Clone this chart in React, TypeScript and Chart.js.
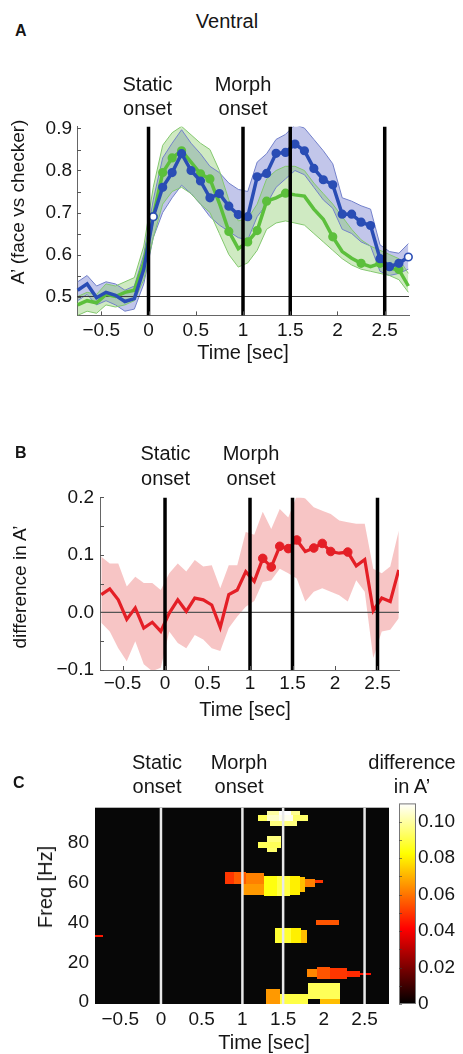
import React, { useEffect, useRef } from "react";
import { Chart, registerables } from "chart.js";

Chart.register(...registerables);

const FONT = "'Liberation Sans', Arial, Helvetica, sans-serif";
const INK = "#151515";

// ---------- shared time axis ----------
const timeSec = [-0.75, -0.65, -0.55, -0.45, -0.35, -0.25, -0.15, -0.05, 0.05, 0.15, 0.25, 0.35, 0.45, 0.55, 0.65, 0.75, 0.85, 0.95, 1.05, 1.15, 1.25, 1.35, 1.45, 1.55, 1.65, 1.75, 1.85, 1.95, 2.05, 2.15, 2.25, 2.35, 2.45, 2.55, 2.65, 2.75];
const eventTimes = [0, 1, 1.5, 2.5];
const timeTickValues = [-0.5, 0, 0.5, 1, 1.5, 2, 2.5];
const timeTickLabels = ["−0.5", "0", "0.5", "1", "1.5", "2", "2.5"];

// ---------- panel A ----------
const blueMean = [0.515, 0.53, 0.497, 0.51, 0.503, 0.488, 0.495, 0.565, 0.69, 0.76, 0.795, 0.84, 0.8, 0.775, 0.735, 0.745, 0.715, 0.695, 0.69, 0.785, 0.793, 0.841, 0.843, 0.863, 0.847, 0.805, 0.778, 0.766, 0.696, 0.696, 0.677, 0.669, 0.59, 0.571, 0.579, 0.594];
const blueUpper = [0.535, 0.55, 0.525, 0.535, 0.53, 0.515, 0.525, 0.6, 0.73, 0.83, 0.865, 0.897, 0.865, 0.84, 0.81, 0.795, 0.77, 0.755, 0.75, 0.82, 0.84, 0.874, 0.886, 0.909, 0.901, 0.874, 0.847, 0.816, 0.735, 0.727, 0.716, 0.708, 0.623, 0.607, 0.603, 0.626];
const blueLower = [0.49, 0.505, 0.48, 0.49, 0.48, 0.465, 0.47, 0.53, 0.64, 0.7, 0.735, 0.765, 0.745, 0.72, 0.69, 0.67, 0.655, 0.64, 0.635, 0.69, 0.72, 0.76, 0.78, 0.8, 0.79, 0.76, 0.73, 0.71, 0.66, 0.65, 0.63, 0.62, 0.56, 0.55, 0.555, 0.565];
const greenMean = [0.48, 0.49, 0.485, 0.505, 0.5, 0.51, 0.515, 0.58, 0.69, 0.795, 0.83, 0.847, 0.82, 0.792, 0.78, 0.722, 0.655, 0.614, 0.63, 0.657, 0.727, 0.735, 0.746, 0.742, 0.739, 0.708, 0.684, 0.642, 0.607, 0.591, 0.579, 0.571, 0.579, 0.567, 0.564, 0.525];
const greenUpper = [0.5, 0.51, 0.505, 0.53, 0.525, 0.535, 0.545, 0.62, 0.76, 0.86, 0.89, 0.905, 0.885, 0.865, 0.85, 0.8, 0.73, 0.68, 0.685, 0.72, 0.78, 0.8, 0.81, 0.81, 0.8, 0.77, 0.745, 0.72, 0.69, 0.66, 0.635, 0.62, 0.61, 0.6, 0.59, 0.555];
const greenLower = [0.455, 0.465, 0.46, 0.48, 0.475, 0.48, 0.49, 0.54, 0.64, 0.72, 0.75, 0.76, 0.745, 0.72, 0.7, 0.65, 0.6, 0.57, 0.58, 0.61, 0.66, 0.675, 0.68, 0.675, 0.67, 0.65, 0.63, 0.61, 0.59, 0.575, 0.565, 0.56, 0.555, 0.55, 0.54, 0.51];
const blueMarked = [8, 9, 10, 11, 12, 13, 14, 15, 16, 17, 18, 19, 20, 21, 22, 23, 24, 25, 26, 27, 28, 29, 30, 31, 32, 33, 34, 35];
const blueOpen = [8, 35];
const greenMarked = [8, 9, 10, 11, 13, 14, 16, 18, 19, 20, 22, 27, 30, 32, 34];
const greenOpen = [8];
const aYTicks = [0.5, 0.6, 0.7, 0.8, 0.9];
const aYLabels = ["0.5", "0.6", "0.7", "0.8", "0.9"];
const aYMinor = [0.55, 0.65, 0.75, 0.85];
const aRefLevel = 0.5;

// ---------- panel B ----------
const redMean = [0.031, 0.041, 0.022, -0.012, 0.008, -0.027, -0.017, -0.033, -0.001, 0.022, 0.002, 0.025, 0.022, 0.013, -0.026, 0.031, 0.039, 0.071, 0.054, 0.094, 0.079, 0.115, 0.111, 0.126, 0.106, 0.112, 0.12, 0.106, 0.103, 0.105, 0.081, 0.092, 0.003, 0.025, 0.019, 0.074];
const redUpper = [0.097, 0.085, 0.085, 0.045, 0.062, 0.051, 0.051, 0.039, 0.068, 0.085, 0.071, 0.091, 0.08, 0.082, 0.042, 0.082, 0.082, 0.14, 0.135, 0.175, 0.145, 0.18, 0.165, 0.203, 0.198, 0.183, 0.177, 0.171, 0.16, 0.157, 0.154, 0.154, 0.076, 0.068, 0.08, 0.142];
const redLower = [-0.018, -0.033, -0.062, -0.085, -0.05, -0.09, -0.102, -0.096, -0.033, -0.053, -0.062, -0.039, -0.047, -0.062, -0.067, -0.027, -0.007, 0.01, 0.02, 0.053, 0.056, 0.076, 0.068, 0.059, 0.019, 0.036, 0.042, 0.036, 0.03, 0.019, 0.056, 0.036, -0.079, -0.033, -0.03, -0.01];
const redMarked = [19, 20, 21, 22, 23, 25, 26, 27, 29];
const bYTicks = [-0.1, 0, 0.1, 0.2];
const bYLabels = ["−0.1", "0.0", "0.1", "0.2"];
const bYMinor = [-0.05, 0.05, 0.15];

// ---------- panel C (time-frequency map) ----------
// [t start, t end, freq low, freq high, difference in A']
const heatCells = [
  [1.3, 1.45, 94.1, 96.2, 0.1], [1.45, 1.6, 94.1, 96.2, 0.11], [1.6, 1.71, 94.1, 96.2, 0.098],
  [1.19, 1.3, 90.9, 94.1, 0.092], [1.3, 1.45, 90.9, 94.1, 0.104], [1.45, 1.62, 90.9, 94.1, 0.108], [1.62, 1.8, 90.9, 94.1, 0.094],
  [1.34, 1.67, 88.5, 90.9, 0.096],
  [1.3, 1.48, 80.5, 83.7, 0.096], [1.19, 1.48, 77.6, 80.5, 0.092], [1.3, 1.42, 75.7, 77.6, 0.094],
  [0.785, 0.9, 59.6, 65.5, 0.05], [0.9, 1.05, 59.6, 65.5, 0.056], [1.0, 1.26, 54.0, 59.6, 0.066], [1.05, 1.26, 59.6, 65.2, 0.062],
  [1.26, 1.42, 53.2, 63.6, 0.084], [1.42, 1.58, 53.2, 63.6, 0.09], [1.58, 1.71, 54.0, 63.6, 0.08], [1.71, 1.77, 55.6, 62.8, 0.072],
  [1.77, 1.89, 57.7, 62.0, 0.062], [1.89, 1.99, 59.9, 61.2, 0.05],
  [1.9, 2.19, 39.0, 41.1, 0.055],
  [1.4, 1.6, 29.9, 37.1, 0.088], [1.6, 1.72, 29.9, 37.1, 0.08], [1.72, 1.795, 29.9, 36.5, 0.072],
  [1.795, 1.91, 12.5, 16.5, 0.063], [1.91, 2.07, 11.5, 17.5, 0.055], [2.07, 2.28, 11.5, 17.0, 0.05], [2.28, 2.44, 12.5, 15.5, 0.048], [2.44, 2.585, 13.5, 14.8, 0.044],
  [1.29, 1.46, -1, 6.5, 0.066], [1.46, 1.8, -1, 4.0, 0.09], [1.8, 2.2, 1.5, 9.8, 0.092], [1.95, 2.2, -1, 1.5, 0.072],
  [-0.81, -0.71, 32.8, 33.8, 0.045],
];
const cYTicks = [0, 20, 40, 60, 80];
const cYLabels = ["0", "20", "40", "60", "80"];
const cbTicks = [0, 0.02, 0.04, 0.06, 0.08, 0.1];
const cbLabels = ["0", "0.02", "0.04", "0.06", "0.08", "0.10"];
const cbMinor = [0.01, 0.03, 0.05, 0.07, 0.09];
const cbMax = 0.11;

// ---------- helpers ----------
const clamp = (v: number) => Math.max(0, Math.min(1, v));
function hot(u: number) {
  const c = clamp(u);
  const r = clamp(c / 0.375), g = clamp((c - 0.375) / 0.375), b = clamp((c - 0.75) / 0.25);
  return `rgb(${Math.round(r * 255)},${Math.round(g * 255)},${Math.round(b * 255)})`;
}
const pts = (ys: number[]) => timeSec.map((t, i) => ({ x: t, y: ys[i] }));
const labelFor = (v: number, vals: number[], labels: string[]) => {
  const i = vals.findIndex((x) => Math.abs(x - v) < 1e-9);
  return i >= 0 ? labels[i] : "";
};
const setTicks = (vals: number[]) => (s: any) => { s.ticks = vals.map((v) => ({ value: v })); };
const tickFont = { family: FONT, size: 19 };

const eventSets = (yMin: number, yMax: number, color: string, width: number) =>
  eventTimes.map((t) => ({
    data: [{ x: t, y: yMin }, { x: t, y: yMax }],
    borderColor: color, borderWidth: width, pointRadius: 0, fill: false, order: 0,
  }));

const innerTicks = (len: number) => ({
  id: "innerTicks",
  afterDatasetsDraw(chart: any) {
    const { ctx, chartArea: a, scales } = chart;
    ctx.save();
    ctx.strokeStyle = "#555"; ctx.lineWidth = 1;
    for (const t of scales.x.ticks) {
      const px = Math.round(scales.x.getPixelForValue(t.value)) + 0.5;
      ctx.beginPath(); ctx.moveTo(px, a.bottom); ctx.lineTo(px, a.bottom - len); ctx.stroke();
    }
    for (const t of scales.y.ticks) {
      const py = Math.round(scales.y.getPixelForValue(t.value)) + 0.5;
      ctx.beginPath(); ctx.moveTo(a.left, py); ctx.lineTo(a.left + len, py); ctx.stroke();
    }
    ctx.restore();
  },
});

const baseOptions = (padding: any) => ({
  animation: false, responsive: false, maintainAspectRatio: false, events: [],
  layout: { padding },
  plugins: { legend: { display: false }, tooltip: { enabled: false }, filler: { drawTime: "beforeDatasetsDraw", propagate: false } },
  elements: { line: { tension: 0 }, point: { radius: 0 } },
});

const xAxis = (min: number, max: number, height: number, pad: number) => ({
  type: "linear", min, max,
  afterBuildTicks: setTicks(timeTickValues),
  afterFit: (s: any) => { s.height = height; },
  grid: { display: false, drawTicks: false },
  border: { display: true, color: "#666", width: 1 },
  ticks: { autoSkip: false, maxRotation: 0, padding: pad, color: INK, font: tickFont, callback: (v: number) => labelFor(v, timeTickValues, timeTickLabels) },
});
const yAxis = (min: number, max: number, width: number, pad: number, vals: number[], labels: string[], minor: number[]) => ({
  type: "linear", min, max,
  afterBuildTicks: setTicks([...vals, ...minor].sort((a, b) => a - b)),
  afterFit: (s: any) => { s.width = width; },
  grid: { display: false, drawTicks: false },
  border: { display: true, color: "#666", width: 1 },
  ticks: { autoSkip: false, padding: pad, color: INK, font: tickFont, callback: (v: number) => labelFor(v, vals, labels) },
});

// ---------- chart configs ----------
const A_X = [-0.757, 2.757];
const A_Y = [0.455, 0.905];
function configA() {
  const markR = (marked: number[], r: number) => timeSec.map((_, i) => (marked.includes(i) ? r : 0));
  const fillC = (open: number[], c: string) => timeSec.map((_, i) => (open.includes(i) ? "#ffffff" : c));
  const BLUE = "#2a4db5", GREEN = "#5cbf3c";
  return {
    type: "line",
    data: {
      datasets: [
        { data: pts(blueLower), borderColor: "#7381cb", borderWidth: 1, fill: false, order: 10 },
        { data: pts(blueUpper), borderColor: "#7381cb", borderWidth: 1, fill: "-1", backgroundColor: "rgba(110,120,205,0.42)", order: 9 },
        { data: pts(greenLower), borderColor: "#84c86f", borderWidth: 1, fill: false, order: 8 },
        { data: pts(greenUpper), borderColor: "#84c86f", borderWidth: 1, fill: "-1", backgroundColor: "rgba(140,205,110,0.42)", order: 7 },
        { data: [{ x: A_X[0], y: aRefLevel }, { x: A_X[1], y: aRefLevel }], borderColor: "#3a3a3a", borderWidth: 1, fill: false, order: 6 },
        { data: pts(greenMean), borderColor: GREEN, borderWidth: 3.5, fill: false, order: 5, clip: false,
          pointRadius: markR(greenMarked, 3.8), pointBackgroundColor: fillC(greenOpen, GREEN), pointBorderColor: GREEN, pointBorderWidth: 1.6 },
        { data: pts(blueMean), borderColor: BLUE, borderWidth: 3.5, fill: false, order: 4, clip: false,
          pointRadius: markR(blueMarked, 3.8), pointBackgroundColor: fillC(blueOpen, BLUE), pointBorderColor: BLUE, pointBorderWidth: 1.6 },
        ...eventSets(A_Y[0], A_Y[1], "#000", 3.5),
      ],
    },
    options: {
      ...baseOptions({ left: 0, right: 54, top: 12, bottom: 0 }),
      scales: { x: xAxis(A_X[0], A_X[1], 54.6, 4), y: yAxis(A_Y[0], A_Y[1], 77, 5, aYTicks, aYLabels, aYMinor) },
    },
    plugins: [innerTicks(4)],
  };
}

const B_X = [-0.765, 2.753];
const B_Y = [-0.1, 0.2];
function configB() {
  const RED = "#e41f26";
  return {
    type: "line",
    data: {
      datasets: [
        { data: pts(redLower), borderWidth: 0, borderColor: "rgba(0,0,0,0)", fill: false, order: 10 },
        { data: pts(redUpper), borderWidth: 0, borderColor: "rgba(0,0,0,0)", fill: "-1", backgroundColor: "rgba(240,140,140,0.5)", order: 9 },
        { data: [{ x: B_X[0], y: 0 }, { x: B_X[1], y: 0 }], borderColor: "#555", borderWidth: 1.3, fill: false, order: 6 },
        { data: pts(redMean), borderColor: RED, borderWidth: 3.2, fill: false, order: 4,
          pointRadius: timeSec.map((_, i) => (redMarked.includes(i) ? 4.3 : 0)), pointBackgroundColor: RED, pointBorderColor: RED, pointBorderWidth: 1 },
        ...eventSets(B_Y[0], B_Y[1], "#000", 3.5),
      ],
    },
    options: {
      ...baseOptions({ left: 0, right: 64, top: 16, bottom: 0 }),
      scales: { x: xAxis(B_X[0], B_X[1], 60, 2), y: yAxis(B_Y[0], B_Y[1], 100, 6, bYTicks, bYLabels, bYMinor) },
    },
    plugins: [innerTicks(4)],
  };
}

const C_X = [-0.81, 2.8];
const C_Y = [-1, 98];
const heatmapPlugin = {
  id: "heatmap",
  beforeDatasetsDraw(chart: any) {
    const { ctx, chartArea: a, scales: { x, y } } = chart;
    ctx.save();
    ctx.beginPath(); ctx.rect(a.left, a.top, a.right - a.left, a.bottom - a.top); ctx.clip();
    ctx.fillStyle = "#070707";
    ctx.fillRect(a.left, a.top, a.right - a.left, a.bottom - a.top);
    for (const [t0, t1, f0, f1, v] of heatCells) {
      const x0 = Math.round(x.getPixelForValue(t0)), x1 = Math.round(x.getPixelForValue(t1));
      const y0 = Math.round(y.getPixelForValue(f1)), y1 = Math.round(y.getPixelForValue(f0));
      ctx.fillStyle = hot(v / cbMax);
      ctx.fillRect(x0, y0, x1 - x0, y1 - y0);
    }
    ctx.restore();
  },
};
function configC() {
  return {
    type: "line",
    data: { datasets: eventSets(C_Y[0], C_Y[1], "#e8e8e8", 2.5) },
    options: {
      ...baseOptions({ left: 0, right: 74, top: 9, bottom: 0 }),
      scales: {
        x: { ...xAxis(C_X[0], C_X[1], 50, 4), border: { display: false } },
        y: { ...yAxis(C_Y[0], C_Y[1], 95, 6, cYTicks, cYLabels, []), border: { display: false } },
      },
    },
    plugins: [heatmapPlugin],
  };
}

const colorbarPlugin = {
  id: "cbframe",
  afterDatasetsDraw(chart: any) {
    const { ctx, chartArea: a, scales: { y } } = chart;
    ctx.save();
    ctx.strokeStyle = "#777"; ctx.lineWidth = 1;
    ctx.strokeRect(a.left + 0.5, a.top + 0.5, a.right - a.left - 1, a.bottom - a.top - 1);
    ctx.strokeStyle = "rgba(60,60,60,0.6)";
    for (const v of [...cbTicks, ...cbMinor]) {
      const py = Math.round(y.getPixelForValue(v)) + 0.5;
      ctx.beginPath(); ctx.moveTo(a.left, py); ctx.lineTo(a.left + 3, py); ctx.stroke();
    }
    ctx.restore();
  },
};
function configCB() {
  return {
    type: "bar",
    data: {
      labels: [""],
      datasets: [{
        data: [[0, cbMax]], borderWidth: 0, barPercentage: 1, categoryPercentage: 1,
        backgroundColor: (c: any) => {
          const ch = c.chart;
          if (!ch.chartArea || !ch.scales.y) return "#000";
          const ys = ch.scales.y;
          const g = ch.ctx.createLinearGradient(0, ys.getPixelForValue(0), 0, ys.getPixelForValue(cbMax));
          for (let i = 0; i <= 32; i++) g.addColorStop(i / 32, hot(i / 32));
          return g;
        },
      }],
    },
    options: {
      ...baseOptions({ left: 9, right: 0, top: 8, bottom: 26 }),
      scales: {
        x: { display: false },
        y: {
          type: "linear", position: "right", min: 0, max: cbMax,
          afterBuildTicks: setTicks(cbTicks),
          afterFit: (s: any) => { s.width = 47; },
          grid: { display: false, drawTicks: false }, border: { display: false },
          ticks: { autoSkip: false, padding: 2, color: INK, font: tickFont, callback: (v: number) => labelFor(v, cbTicks, cbLabels) },
        },
      },
    },
    plugins: [colorbarPlugin],
  };
}

// ---------- components ----------
function ChartBox({ left, top, width, height, make }: any) {
  const ref = useRef<HTMLCanvasElement>(null);
  useEffect(() => {
    const chart = new Chart(ref.current as HTMLCanvasElement, make() as any);
    return () => chart.destroy();
  }, []);
  return <canvas ref={ref} width={width} height={height} style={{ position: "absolute", left, top, width, height }} />;
}

function Txt({ x, y, children, size = 20, bold = false, lh = 24, center = true }: any) {
  return (
    <div style={{ position: "absolute", left: x, top: y, transform: center ? "translateX(-50%)" : "none", fontSize: size, lineHeight: `${lh}px`, fontWeight: bold ? 700 : 400, textAlign: "center", whiteSpace: "nowrap", color: INK }}>
      {children}
    </div>
  );
}
function VTxt({ cx, cy, children, size = 20 }: any) {
  return (
    <div style={{ position: "absolute", left: cx, top: cy, transform: "translate(-50%,-50%) rotate(-90deg)", fontSize: size, lineHeight: "24px", whiteSpace: "nowrap", color: INK }}>
      {children}
    </div>
  );
}
function CTxt({ cx, cy, children, size = 20 }: any) {
  return (
    <div style={{ position: "absolute", left: cx, top: cy, transform: "translate(-50%,-50%)", fontSize: size, lineHeight: "24px", whiteSpace: "nowrap", color: INK }}>
      {children}
    </div>
  );
}

export default function App() {
  return (
    <div style={{ position: "absolute", left: 0, top: 0, width: 463, height: 1054, fontFamily: FONT, background: "#fff", overflow: "hidden" }}>
      <ChartBox left={0} top={110} width={463} height={260} make={configA} />
      <ChartBox left={0} top={480} width={463} height={250} make={configB} />
      <ChartBox left={0} top={790} width={463} height={264} make={configC} />
      <ChartBox left={390} top={790} width={73} height={240} make={configCB} />

      <Txt x={227} y={9}>Ventral</Txt>
      <Txt x={15} y={21} size={16} bold lh={20} center={false}>A</Txt>
      <Txt x={147.5} y={72}>Static<br />onset</Txt>
      <Txt x={243} y={72}>Morph<br />onset</Txt>
      <VTxt cx={18} cy={202} size={19}>A’ (face vs checker)</VTxt>
      <CTxt cx={243} cy={352}>Time [sec]</CTxt>

      <Txt x={15} y={443} size={16} bold lh={20} center={false}>B</Txt>
      <Txt x={165.5} y={441} lh={25}>Static<br />onset</Txt>
      <Txt x={251} y={441} lh={25}>Morph<br />onset</Txt>
      <VTxt cx={20} cy={587} size={19}>difference in A’</VTxt>
      <CTxt cx={245} cy={709}>Time [sec]</CTxt>

      <Txt x={13} y={773} size={16} bold lh={20} center={false}>C</Txt>
      <Txt x={157} y={750}>Static<br />onset</Txt>
      <Txt x={239} y={750}>Morph<br />onset</Txt>
      <Txt x={412} y={750}>difference<br />in A’</Txt>
      <VTxt cx={45} cy={887} size={20}>Freq [Hz]</VTxt>
      <CTxt cx={264} cy={1042}>Time [sec]</CTxt>
    </div>
  );
}
